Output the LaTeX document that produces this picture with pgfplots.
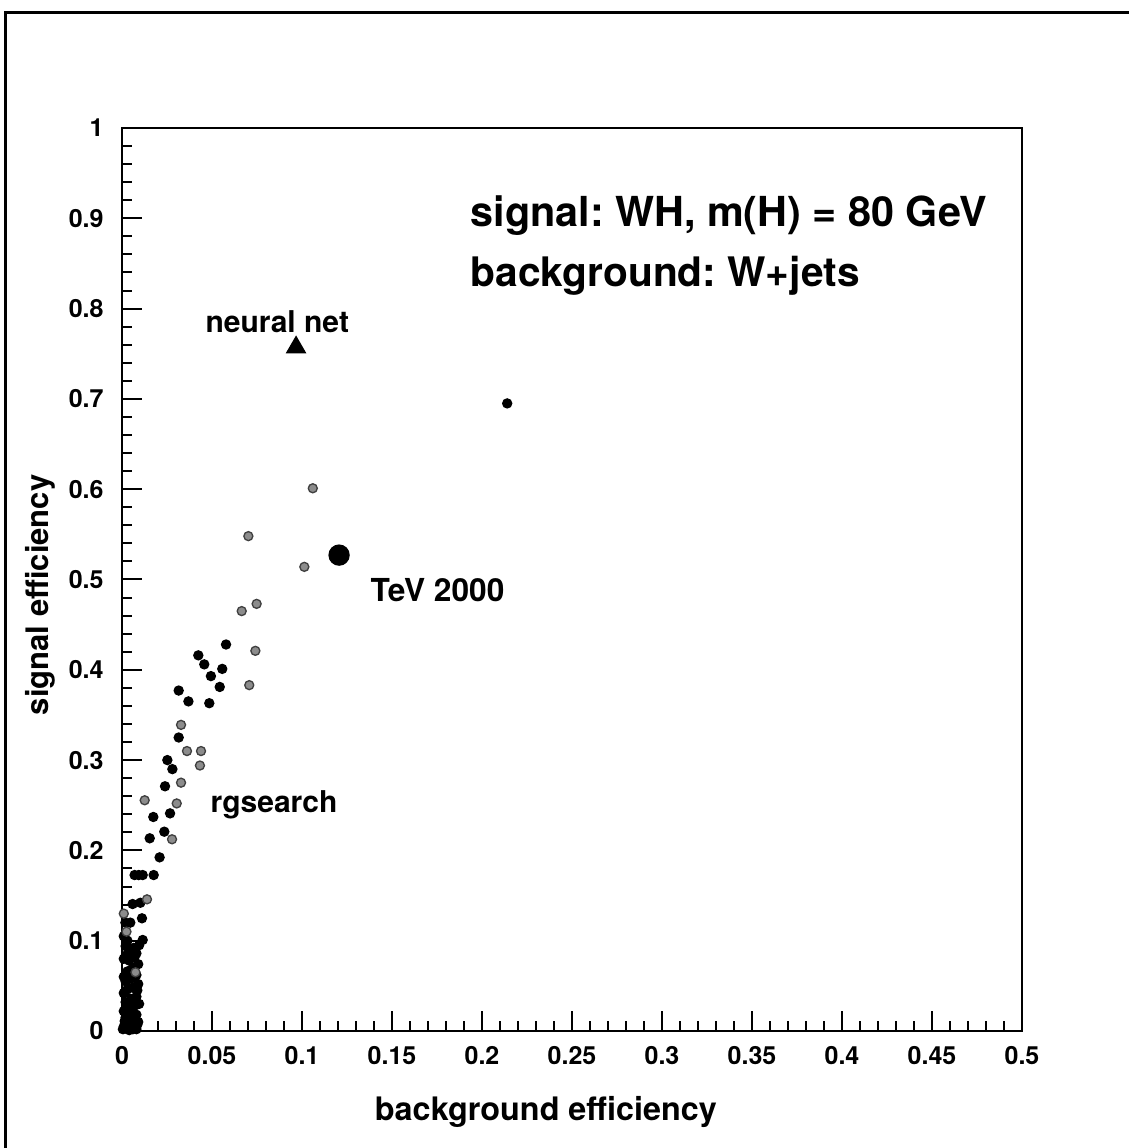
\documentclass[border=0pt]{standalone}
\usepackage{fontspec}
\setmainfont{TeX Gyre Heros}
\usepackage{pgfplots}
\pgfplotsset{compat=1.18}
\frenchspacing
\begin{document}
\begin{tikzpicture}
\useasboundingbox (0,0) rectangle (338.4pt,344.4pt);
\fill[white] (0,0) rectangle (338.4pt,344.4pt);
\draw[line width=0.9pt] (1.5pt,-5pt) -- (1.5pt,340.5pt) -- (345pt,340.5pt);
\begin{axis}[
  at={(36.6pt,35.1pt)}, anchor=south west,
  scale only axis, width=270pt, height=270.9pt,
  xmin=0, xmax=0.5, ymin=0, ymax=1,
  axis line style={line width=0.8pt},
  tick pos=left, tick align=inside,
  xtick={0,0.05,0.1,0.15,0.2,0.25,0.3,0.35,0.4,0.45,0.5},
  ytick={0,0.1,0.2,0.3,0.4,0.5,0.6,0.7,0.8,0.9,1},
  minor x tick num=4, minor y tick num=4,
  major tick length=6pt, minor tick length=3pt,
  every tick/.style={line width=0.6pt, black},
  scaled ticks=false,
  /pgf/number format/fixed, /pgf/number format/precision=2,
  /pgf/number format/assume math mode=true,
  xticklabel style={font=\fontsize{7.5}{9}\selectfont\bfseries, yshift=-1pt},
  yticklabel style={font=\fontsize{7.5}{9}\selectfont\bfseries, xshift=-2pt},
  xlabel={background efficiency},
  ylabel={signal efficiency},
  xlabel style={font=\fontsize{9.7}{11}\selectfont\bfseries, at={(axis description cs:0.471,-0.09)}, anchor=center},
  ylabel style={font=\fontsize{9.3}{11}\selectfont\bfseries, at={(axis description cs:-0.091,0.483)}, anchor=center, rotate=0},
]
% dark points
\addplot[only marks, mark=*, mark size=1.35pt, black] coordinates {
(0.214,0.695) (0.0578,0.428) (0.0424,0.416) (0.0457,0.406) (0.0557,0.401)
(0.0494,0.393) (0.0543,0.381) (0.0315,0.377) (0.0369,0.365) (0.0485,0.363)
(0.0315,0.325) (0.0252,0.300) (0.0280,0.290) (0.0239,0.271) (0.0267,0.241)
(0.0174,0.237) (0.0235,0.2207) (0.0154,0.2134) (0.0209,0.1923)
(0.0070,0.1727) (0.0093,0.1727) (0.0115,0.1727) (0.0176,0.1727)
(0.0059,0.1406) (0.0102,0.142) (0.0111,0.1248) (0.0115,0.1008)
(0.0019,0.120) (0.0046,0.120)
(0.0005,0.002) (0.001,0.005) (0.003,0.008) (0.005,0.004) (0.007,0.006)
(0.009,0.010) (0.004,0.001) (0.008,0.002) (0.002,0.015) (0.006,0.014)
(0.008,0.018) (0.0015,0.011) (0.004,0.012) (0.006,0.020) (0.001,0.022)
(0.004,0.025) (0.007,0.028) (0.0095,0.030) (0.002,0.032) (0.005,0.035)
(0.008,0.038) (0.001,0.042) (0.003,0.046) (0.0085,0.045) (0.006,0.048)
(0.009,0.052) (0.002,0.055) (0.005,0.058) (0.001,0.060) (0.008,0.062)
(0.003,0.066) (0.006,0.070) (0.009,0.074) (0.004,0.078) (0.001,0.080)
(0.007,0.082) (0.003,0.085) (0.008,0.086) (0.005,0.090) (0.0065,0.092)
(0.002,0.094) (0.003,0.100) (0.0095,0.095) (0.0010,0.105)
(0.002,0.003) (0.006,0.002) (0.0085,0.007) (0.003,0.018) (0.0065,0.010)
};
% grey (halftone) points
\addplot[only marks, mark=*, mark size=1.35pt, draw=black!75, fill=black!45] coordinates {
(0.106,0.601) (0.0702,0.548) (0.1013,0.514) (0.0748,0.473) (0.0665,0.465)
(0.0741,0.421) (0.0707,0.383) (0.0328,0.339) (0.0361,0.310) (0.0439,0.310)
(0.0433,0.294) (0.0328,0.275) (0.0304,0.252) (0.0126,0.2555) (0.0278,0.2123)
(0.0139,0.1458) (0.0025,0.110) (0.001,0.130) (0.0075,0.065)
};
% neural net
\addplot[only marks, mark=triangle*, mark size=3.2pt, black] coordinates {(0.0967,0.757)};
% TeV 2000
\addplot[only marks, mark=*, mark size=3pt, black] coordinates {(0.1206,0.527)};
\node[anchor=base west, inner sep=0pt, font=\fontsize{12.4}{14}\selectfont\bfseries] at (axis cs:0.1933,0.891) {signal: WH, m(H) = 80 GeV};
\node[anchor=base west, inner sep=0pt, font=\fontsize{12.2}{14}\selectfont\bfseries] at (axis cs:0.1933,0.825) {background: W+jets};
\node[anchor=base west, inner sep=0pt, font=\fontsize{9}{11}\selectfont\bfseries] at (axis cs:0.0461,0.773) {neural net};
\node[anchor=base west, inner sep=0pt, font=\fontsize{9.5}{11}\selectfont\bfseries] at (axis cs:0.1378,0.476) {TeV 2000};
\node[anchor=base west, inner sep=0pt, font=\fontsize{9}{11}\selectfont\bfseries] at (axis cs:0.0489,0.2425) {rgsearch};
\end{axis}
\end{tikzpicture}
\end{document}
